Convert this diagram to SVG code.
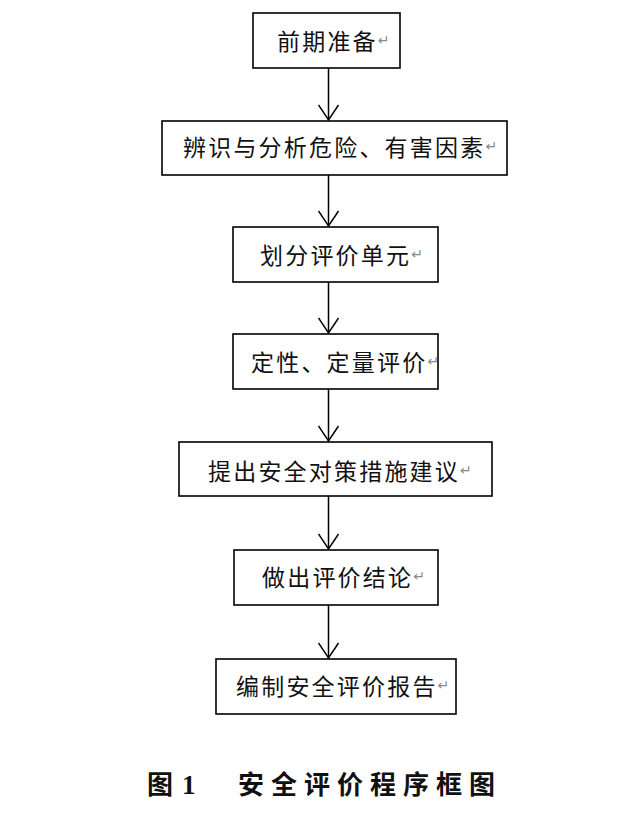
<svg xmlns="http://www.w3.org/2000/svg" width="633" height="813" viewBox="0 0 633 813">
<style>
.box{fill:#fff;stroke:#000;stroke-width:1.6}
.t{font-family:"Noto Sans CJK SC","Noto Sans CJK JP",sans-serif;font-size:23px;letter-spacing:2.2px;fill:#111;dominant-baseline:central}
.r{font-family:"DejaVu Sans",sans-serif;font-size:14px;fill:#888;letter-spacing:0}
.c{stroke:#000;stroke-width:1.5;fill:none}
.cap{font-family:"Noto Sans CJK SC",sans-serif;font-size:26px;font-weight:700;letter-spacing:7px;fill:#111}
.num{font-family:"Liberation Serif",serif;font-size:27px;font-weight:700;fill:#111}
</style>
<defs>
<marker id="arr" viewBox="0 0 18 22" refX="16" refY="11" markerWidth="18" markerHeight="22" markerUnits="userSpaceOnUse" orient="auto">
<path d="M1,1 L16,11 L1,21" fill="none" stroke="#000" stroke-width="1.5"/>
</marker>
</defs>
<rect width="633" height="813" fill="#fff"/>
<g id="connectors">
<line class="c" x1="328.5" y1="68" x2="328.5" y2="120" marker-end="url(#arr)"/>
<line class="c" x1="328.5" y1="175" x2="328.5" y2="226" marker-end="url(#arr)"/>
<line class="c" x1="328.5" y1="282" x2="328.5" y2="333" marker-end="url(#arr)"/>
<line class="c" x1="328.5" y1="389" x2="328.5" y2="441" marker-end="url(#arr)"/>
<line class="c" x1="328.5" y1="496" x2="328.5" y2="549" marker-end="url(#arr)"/>
<line class="c" x1="328.5" y1="605" x2="328.5" y2="658" marker-end="url(#arr)"/>
</g>
<g id="n1"><rect class="box" x="253" y="13" width="147" height="55"/><text class="t" x="277" y="40">前期准备<tspan class="r">↵</tspan></text></g>
<g id="n2"><rect class="box" x="162" y="121" width="345" height="54"/><text class="t" x="183" y="146">辨识与分析危险、有害因素<tspan class="r">↵</tspan></text></g>
<g id="n3"><rect class="box" x="233" y="227" width="205" height="55"/><text class="t" x="260" y="254">划分评价单元<tspan class="r">↵</tspan></text></g>
<g id="n4"><rect class="box" x="233" y="334" width="205" height="55"/><text class="t" x="251" y="361">定性、定量评价<tspan class="r">↵</tspan></text></g>
<g id="n5"><rect class="box" x="179" y="442" width="313" height="54"/><text class="t" x="208" y="470">提出安全对策措施建议<tspan class="r">↵</tspan></text></g>
<g id="n6"><rect class="box" x="234" y="550" width="204" height="55"/><text class="t" x="262" y="576">做出评价结论<tspan class="r">↵</tspan></text></g>
<g id="n7"><rect class="box" x="216" y="659" width="240" height="55"/><text class="t" x="236" y="685">编制安全评价报告<tspan class="r">↵</tspan></text></g>
<g id="caption">
<text class="cap" x="147" y="794">图</text>
<text class="num" x="182" y="794">1</text>
<text class="cap" x="238" y="794">安全评价程序框图</text>
</g>
</svg>
